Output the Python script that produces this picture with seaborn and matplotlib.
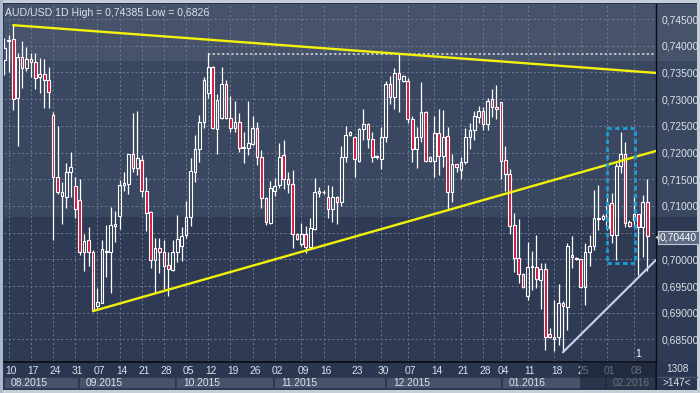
import numpy as np
import pandas as pd
import matplotlib
matplotlib.use("Agg")
import matplotlib.pyplot as plt
import seaborn as sns
from matplotlib.patches import Rectangle, Polygon

# ---------------- data (AUD/USD daily candles) ----------------
opens = [0.7373, 0.7409, 0.7413, 0.7302, 0.7379, 0.7358, 0.7375, 0.7370, 0.7341, 0.7347,
         0.7336, 0.7270, 0.7154, 0.7118, 0.7117, 0.7164, 0.7137, 0.7111, 0.7014, 0.7036,
         0.7014, 0.6913, 0.6919, 0.7013, 0.7013, 0.7063, 0.7081, 0.7140, 0.7141, 0.7197,
         0.7171, 0.7186, 0.7128, 0.7089, 0.6999, 0.7021, 0.7013, 0.6990, 0.6980, 0.7013,
         0.7025, 0.7045, 0.7079, 0.7164, 0.7207, 0.7257, 0.7312, 0.7360, 0.7244, 0.7265,
         0.7328, 0.7265, 0.7246, 0.7257, 0.7208, 0.7208, 0.7216, 0.7246, 0.7192, 0.7114,
         0.7068, 0.7128, 0.7139, 0.7196, 0.7151, 0.7141, 0.7047, 0.7029, 0.7047, 0.7023,
         0.7057, 0.7125, 0.7126, 0.7117, 0.7094, 0.7117, 0.7107, 0.7192, 0.7233, 0.7229,
         0.7184, 0.7244, 0.7253, 0.7225, 0.7192, 0.7188, 0.7229, 0.7328, 0.7304, 0.7349,
         0.7334, 0.7334, 0.7263, 0.7207, 0.7229, 0.7276, 0.7184, 0.7184, 0.7236, 0.7193,
         0.7231, 0.7126, 0.7178, 0.7167, 0.7182, 0.7229, 0.7242, 0.7266, 0.7278, 0.7253,
         0.7300, 0.7285, 0.7295, 0.7186, 0.7160, 0.7064, 0.7003, 0.6973, 0.6931, 0.6986,
         0.6986, 0.6961, 0.6982, 0.6860, 0.6854, 0.6854, 0.6918, 0.6911, 0.7008, 0.7000,
         0.7001, 0.6948, 0.7014, 0.7025, 0.7076, 0.7076, 0.7058, 0.7105, 0.7045, 0.7175,
         0.7197, 0.7070, 0.7073, 0.7085, 0.7060, 0.7107]
highs = [0.7414, 0.7420, 0.74385, 0.7386, 0.7409, 0.7398, 0.7386, 0.7386, 0.7377, 0.7376,
         0.7360, 0.7276, 0.7250, 0.7145, 0.7181, 0.7201, 0.7154, 0.7151, 0.7047, 0.7060,
         0.7017, 0.6946, 0.7036, 0.7064, 0.7098, 0.7090, 0.7148, 0.7163, 0.7198, 0.7274,
         0.7277, 0.7195, 0.7154, 0.7090, 0.7040, 0.7040, 0.7036, 0.7014, 0.7036, 0.7083,
         0.7060, 0.7109, 0.7190, 0.7233, 0.7270, 0.7342, 0.7386, 0.7362, 0.7310, 0.7360,
         0.7336, 0.7306, 0.7297, 0.7274, 0.7238, 0.7297, 0.7268, 0.7257, 0.7205, 0.7117,
         0.7146, 0.7152, 0.7218, 0.7224, 0.7164, 0.7167, 0.7049, 0.7068, 0.7062, 0.7078,
         0.7152, 0.7135, 0.7130, 0.7140, 0.7138, 0.7119, 0.7212, 0.7250, 0.7240, 0.7230,
         0.7246, 0.7281, 0.7255, 0.7238, 0.7196, 0.7248, 0.7334, 0.7343, 0.7358, 0.7385,
         0.7345, 0.7340, 0.7269, 0.7248, 0.7332, 0.7278, 0.7193, 0.7268, 0.7281, 0.7279,
         0.7248, 0.7197, 0.7178, 0.7191, 0.7246, 0.7255, 0.7278, 0.7287, 0.7285, 0.7302,
         0.7319, 0.7326, 0.7295, 0.7212, 0.7169, 0.7087, 0.7076, 0.6975, 0.7032, 0.7016,
         0.7045, 0.6993, 0.6993, 0.6871, 0.6924, 0.6954, 0.6922, 0.7030, 0.7044, 0.7005,
         0.7001, 0.7030, 0.7046, 0.7130, 0.7139, 0.7085, 0.7124, 0.7124, 0.7180, 0.7238,
         0.7220, 0.7073, 0.7120, 0.7085, 0.7120, 0.7150]
lows = [0.7345, 0.7351, 0.7280, 0.7212, 0.7321, 0.7353, 0.7341, 0.7319, 0.7311, 0.7283,
        0.7283, 0.7036, 0.7122, 0.7066, 0.7096, 0.7117, 0.7077, 0.7008, 0.6978, 0.6987,
        0.6903, 0.6905, 0.6918, 0.6967, 0.6936, 0.7032, 0.7056, 0.7128, 0.7122, 0.7163,
        0.7158, 0.7117, 0.7053, 0.6984, 0.6937, 0.6974, 0.6944, 0.6931, 0.6978, 0.6995,
        0.6997, 0.7040, 0.7062, 0.7145, 0.7182, 0.7246, 0.7302, 0.7244, 0.7197, 0.7263,
        0.7262, 0.7238, 0.7238, 0.7201, 0.7180, 0.7196, 0.7214, 0.7177, 0.7096, 0.7064,
        0.7066, 0.7118, 0.7133, 0.7132, 0.7124, 0.7021, 0.7036, 0.7025, 0.7012, 0.7023,
        0.7055, 0.7117, 0.7122, 0.7077, 0.7070, 0.7066, 0.7100, 0.7182, 0.7231, 0.7154,
        0.7182, 0.7223, 0.7208, 0.7182, 0.7188, 0.7170, 0.7220, 0.7291, 0.7282, 0.7276,
        0.7332, 0.7255, 0.7182, 0.7171, 0.7220, 0.7182, 0.7182, 0.7154, 0.7158, 0.7173,
        0.7094, 0.7107, 0.7163, 0.7150, 0.7178, 0.7206, 0.7223, 0.7255, 0.7242, 0.7242,
        0.7266, 0.7263, 0.7150, 0.7128, 0.7047, 0.6976, 0.6955, 0.6946, 0.6924, 0.6942,
        0.6946, 0.6907, 0.6831, 0.6852, 0.6829, 0.6839, 0.6826, 0.6868, 0.6984, 0.6999,
        0.6946, 0.6914, 0.6987, 0.7017, 0.7055, 0.7073, 0.7055, 0.7030, 0.6999, 0.7162,
        0.7060, 0.7060, 0.7060, 0.6970, 0.7004, 0.6978]
closes = [0.7396, 0.7411, 0.7301, 0.7379, 0.7358, 0.7375, 0.7370, 0.7339, 0.7347, 0.7336,
          0.7313, 0.7154, 0.7126, 0.7126, 0.7164, 0.7173, 0.7094, 0.7014, 0.7034, 0.7014,
          0.6905, 0.6920, 0.7019, 0.7015, 0.7064, 0.7066, 0.7140, 0.7142, 0.7197, 0.7171,
          0.7190, 0.7128, 0.7087, 0.6999, 0.7021, 0.7014, 0.6988, 0.6982, 0.7013, 0.7038,
          0.7043, 0.7079, 0.7165, 0.7207, 0.7257, 0.7336, 0.7360, 0.7246, 0.7298, 0.7328,
          0.7265, 0.7246, 0.7257, 0.7208, 0.7210, 0.7218, 0.7246, 0.7192, 0.7114, 0.7070,
          0.7133, 0.7137, 0.7192, 0.7151, 0.7141, 0.7047, 0.7038, 0.7047, 0.7023, 0.7059,
          0.7126, 0.7127, 0.7126, 0.7094, 0.7117, 0.7107, 0.7192, 0.7233, 0.7238, 0.7188,
          0.7244, 0.7253, 0.7225, 0.7192, 0.7193, 0.7229, 0.7328, 0.7304, 0.7349, 0.7338,
          0.7343, 0.7263, 0.7207, 0.7229, 0.7276, 0.7184, 0.7192, 0.7236, 0.7193, 0.7229,
          0.7126, 0.7178, 0.7172, 0.7182, 0.7229, 0.7242, 0.7268, 0.7278, 0.7253, 0.7296,
          0.7285, 0.7282, 0.7184, 0.7160, 0.7062, 0.7003, 0.6973, 0.6948, 0.6986, 0.6987,
          0.6963, 0.6982, 0.6854, 0.6854, 0.6851, 0.6918, 0.6912, 0.7025, 0.7004, 0.7003,
          0.6948, 0.7014, 0.7025, 0.7078, 0.7078, 0.7081, 0.7101, 0.7045, 0.7175, 0.7197,
          0.7068, 0.7062, 0.7085, 0.7060, 0.7107, 0.7044]

day_labels = ["10", "17", "24", "31", "07", "14", "21", "28", "05", "12", "19", "26", "02",
              "09", "16", "23", "30", "07", "14", "21", "28", "04", "11", "18", "25", "01", "08"]
day_label_bars = [1, 6, 11, 16, 21, 26, 31, 36, 41, 46, 51, 56, 61,
                  67, 72, 79, 85, 91, 97, 103, 108, 112, 118, 124, 130, 136, 142]
month_labels = ["08.2015", "09.2015", "10.2015", "11.2015", "12.2015", "01.2016", "02.2016"]
month_starts = [-0.1, 16.8, 38.7, 60.8, 86.1, 112.2, 135.6]
price_ticks = [0.685, 0.690, 0.695, 0.700, 0.705, 0.710, 0.715, 0.720, 0.725, 0.730, 0.735, 0.740, 0.745]

title = "AUD/USD 1D High = 0,74385 Low = 0,6826"
last_price = 0.70440
upper_trend_bars, upper_trend_prices = [2, 147], [0.74385, 0.7349]
lower_trend_bars, lower_trend_prices = [20, 147], [0.6903, 0.7203]
support_bars, support_prices = [126, 147], [0.6826, 0.6999]
resistance_bar, resistance_price = 46, 0.7385
box_bars, box_prices = [136.0, 142.2], [0.6993, 0.7246]
band_levels = [0.7080, 0.7371]
bars_info = ["1308", ">147<"]

# ---------------- styling ----------------
sns.set_theme(style="dark")
plt.rcParams['font.family'] = ['Liberation Sans', 'DejaVu Sans']

W, H = 700, 393
fig = plt.figure(figsize=(W / 100, H / 100), dpi=100, facecolor='#c6ced8')

TXT = '#dce2ea'
BG_TOP, BG_MID, BG_LOW = '#46536b', '#3a4761', '#2f3b55'
AXBG = '#2b3751'


def fig_rect(x0, y0, x1, y1, color, z=-5, **kw):
    r = Rectangle((x0 / W, 1 - y1 / H), (x1 - x0) / W, (y1 - y0) / H,
                  transform=fig.transFigure, facecolor=color, edgecolor='none', zorder=z, **kw)
    fig.patches.append(r)
    return r


fig_rect(3, 3, 697, 390, AXBG)
fig_rect(0, 0, 3, 393, '#a8b9d0')

x_lo, x_hi = -0.07, 146.98
y_lo, y_hi = 0.68077, 0.74781

ax = fig.add_axes([4 / W, 1 - 362 / H, 652 / W, 358 / H])
ax.set_xlim(x_lo, x_hi)
ax.set_ylim(y_lo, y_hi)
ax.patch.set_visible(False)

ext = 693 / 652
for lo, hi, c in [(y_lo, band_levels[0], BG_LOW), (band_levels[0], band_levels[1], BG_MID),
                  (band_levels[1], y_hi, BG_TOP)]:
    sp = ax.axhspan(lo, hi, xmin=0, xmax=ext, facecolor=c, edgecolor='none', zorder=0)
    sp.set_clip_on(False)

# grid
ax.set_xticks(day_label_bars)
ax.set_yticks(price_ticks)
ax.grid(True, color='#6f7c95', linestyle=(0, (2, 2.5)), linewidth=0.7, zorder=1)
ax.tick_params(axis='x', length=0, labelbottom=False)
ax.yaxis.tick_right()
# the 0,70500 label sits under the last-price marker in the reference
ax.set_yticklabels(["" if abs(v - 0.705) < 1e-9 else f"{v:.5f}".replace('.', ',')
                    for v in price_ticks])
ax.tick_params(axis='y', length=0, pad=4, labelsize=7.4, colors=TXT)
for s in ['top', 'left', 'bottom']:
    ax.spines[s].set_visible(False)
ax.spines['right'].set_color('#0c0c10')
ax.spines['right'].set_linewidth(1.0)

# candles
df = pd.DataFrame({'o': opens, 'h': highs, 'l': lows, 'c': closes})
df['x'] = np.arange(len(df))
df['top'] = df[['o', 'c']].max(axis=1)
df['bot'] = df[['o', 'c']].min(axis=1)
ax.vlines(df['x'], df['top'], df['h'], color='white', lw=0.9, zorder=3)
ax.vlines(df['x'], df['l'], df['bot'], color='white', lw=0.9, zorder=3)
height = (df['top'] - df['bot']).clip(lower=0.00008)
fills = ['#d7143c' if c < o else 'none' for o, c in zip(opens, closes)]
ax.bar(df['x'], height, bottom=df['bot'], width=0.6, color=fills, edgecolor='white',
       linewidth=0.8, zorder=4)

# resistance dotted line
ax.hlines(resistance_price, resistance_bar, x_hi, colors='#b9bfc9', linestyles=(0, (1.2, 1.2)),
          linewidth=1.4, zorder=2)

# trend lines
sns.lineplot(x=upper_trend_bars, y=upper_trend_prices, ax=ax, color='#f2f20a', lw=1.7, zorder=5,
             legend=False)
sns.lineplot(x=lower_trend_bars, y=lower_trend_prices, ax=ax, color='#f2f20a', lw=1.7, zorder=5,
             legend=False)
sns.lineplot(x=support_bars, y=support_prices, ax=ax, color='#c9d3ee', lw=1.5, zorder=5,
             legend=False)
ax.set_xlim(x_lo, x_hi)
ax.set_ylim(y_lo, y_hi)

# dashed highlight box
ax.add_patch(Rectangle((box_bars[0], box_prices[0]), box_bars[1] - box_bars[0],
                       box_prices[1] - box_prices[0], fill=False, edgecolor='#1e9cd8',
                       linewidth=2.0, linestyle=(0, (1.6, 1.2)), zorder=6))

ax.text(142.4, y_lo + 0.0006, "1", color='white', fontsize=7.5, ha='left', va='bottom', zorder=6)

# title
fig.text(5 / W, 1 - 13 / H, title, color=TXT, fontsize=7.6, ha='left', va='center')

# last price label
fig.text(660 / W, 1 - 237.5 / H, f"{last_price:.5f}".replace('.', ','), color='white', fontsize=7.4,
         ha='left', va='center',
         bbox=dict(boxstyle='square,pad=0.18', facecolor='#5d6a82', edgecolor='#c0c8d4', lw=0.8))
fig.patches.append(Polygon([[655.5 / W, 1 - 237.5 / H], [659.5 / W, 1 - 234 / H], [659.5 / W, 1 - 241 / H]],
                           closed=True, transform=fig.transFigure, facecolor='#c0c8d4',
                           edgecolor='none', zorder=6))

# ---------------- date axis ----------------
axd = fig.add_axes([4 / W, 1 - 389 / H, 652 / W, 27 / H])
axd.set_xlim(x_lo, x_hi)
axd.set_ylim(0, 1)
axd.set_facecolor(AXBG)
axd.set_xticks([])
axd.set_yticks([])
for s in ['left', 'bottom']:
    axd.spines[s].set_visible(False)
axd.spines['top'].set_color('#0c0c10')
axd.spines['top'].set_linewidth(1.2)
axd.spines['right'].set_color('#0c0c10')

for lbl, b in zip(day_labels, day_label_bars):
    axd.text(b - 0.75, 0.67, lbl, color=TXT, fontsize=7.4, ha='left', va='center', zorder=3)

bounds = month_starts + [x_hi + 1]
for i, lbl in enumerate(month_labels):
    x0, x1 = bounds[i], bounds[i + 1]
    axd.add_patch(Rectangle((x0, 0.0), x1 - x0, 0.45, facecolor='#46536b', edgecolor=AXBG,
                            linewidth=1.2, zorder=2))
    axd.text(x0 + 1.6, 0.22, lbl, color=TXT, fontsize=7.4, ha='left', va='center', zorder=3)

axd.add_patch(Rectangle((129.8, 0), x_hi - 129.8, 1, facecolor='#1b2335', alpha=0.6,
                        edgecolor='none', zorder=5))

# bottom-right info box
fig_rect(657, 363, 697, 389, AXBG, z=1)
fig.lines.append(plt.Line2D([657 / W, 697 / W], [1 - 376.5 / H, 1 - 376.5 / H],
                            transform=fig.transFigure, color='#46536b', lw=1))
fig.text(677 / W, 1 - 369.5 / H, bars_info[0], color=TXT, fontsize=7.2, ha='center', va='center')
fig.text(677 / W, 1 - 383 / H, bars_info[1], color=TXT, fontsize=7.2, ha='center', va='center')

fig.savefig("out.png", dpi=100, facecolor=fig.get_facecolor())
